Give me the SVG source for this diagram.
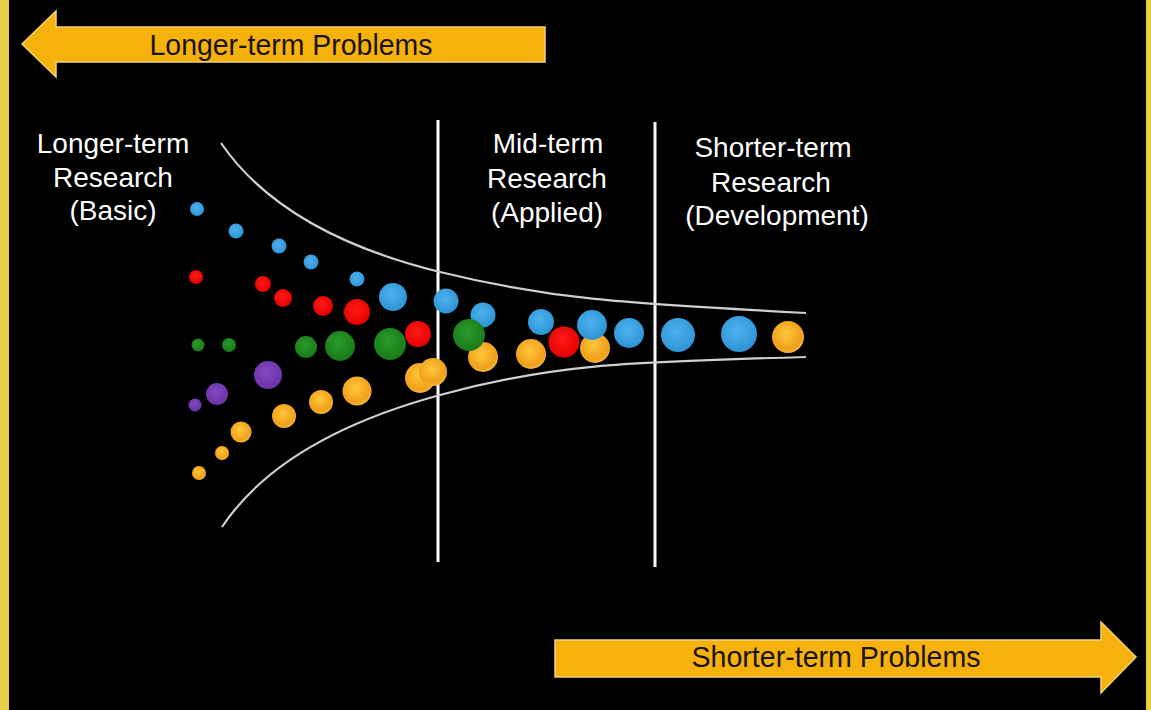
<svg xmlns="http://www.w3.org/2000/svg" width="1151" height="710" viewBox="0 0 1151 710">
<defs>
<radialGradient id="gB" cx="45%" cy="40%" r="60%"><stop offset="0" stop-color="#4DB3EC"/><stop offset="1" stop-color="#2E93D6"/></radialGradient>
<radialGradient id="gR" cx="45%" cy="40%" r="60%"><stop offset="0" stop-color="#FF1A1A"/><stop offset="1" stop-color="#E60000"/></radialGradient>
<radialGradient id="gG" cx="45%" cy="40%" r="60%"><stop offset="0" stop-color="#2A9A2A"/><stop offset="1" stop-color="#197A19"/></radialGradient>
<radialGradient id="gP" cx="45%" cy="40%" r="60%"><stop offset="0" stop-color="#8447C2"/><stop offset="1" stop-color="#6A34A6"/></radialGradient>
<radialGradient id="gO" cx="45%" cy="40%" r="60%"><stop offset="0" stop-color="#FFC83A"/><stop offset="0.8" stop-color="#F0A01A"/><stop offset="1" stop-color="#F6B540"/></radialGradient>
</defs>
<style>
.lbl{font-family:"Liberation Sans",Arial,sans-serif;font-size:28px;fill:#ffffff;text-anchor:middle}
.atx{font-family:"Liberation Sans",Arial,sans-serif;font-size:30px;fill:#1a1208;text-anchor:middle}
.arrow{fill:#F6B20C;stroke:#F3CF7A;stroke-width:1.5}
.div{stroke:#ffffff;stroke-width:3;fill:none}
.fun{stroke:#cfcfcf;stroke-width:2.2;fill:none}
.b{fill:url(#gB)}.r{fill:url(#gR)}.g{fill:url(#gG)}.p{fill:url(#gP)}.o{fill:url(#gO)}
</style>
<rect x="0" y="0" width="1151" height="710" fill="#000000"/>
<rect x="0" y="0" width="9" height="710" fill="#E8CF45"/>
<rect x="1146" y="0" width="5" height="710" fill="#E8CF45"/>

<g id="arrow-longer">
<polygon class="arrow" points="22,44 56,11 56,27 545,27 545,62 56,62 56,77"/>
<text class="atx" x="291" y="55" textLength="283" lengthAdjust="spacingAndGlyphs">Longer-term Problems</text>
</g>
<g id="arrow-shorter">
<polygon class="arrow" points="555,640 1101,640 1101,622 1136,657 1101,693 1101,677 555,677"/>
<text class="atx" x="836" y="667" textLength="289" lengthAdjust="spacingAndGlyphs">Shorter-term Problems</text>
</g>

<g id="label-basic">
<text class="lbl" x="113" y="153">Longer-term</text>
<text class="lbl" x="113" y="187">Research</text>
<text class="lbl" x="113" y="220">(Basic)</text>
</g>
<g id="label-applied">
<text class="lbl" x="548" y="153">Mid-term</text>
<text class="lbl" x="547" y="188">Research</text>
<text class="lbl" x="547" y="222">(Applied)</text>
</g>
<g id="label-development">
<text class="lbl" x="773" y="157">Shorter-term</text>
<text class="lbl" x="771" y="192">Research</text>
<text class="lbl" x="777" y="225">(Development)</text>
</g>

<g id="dividers">
<line class="div" x1="438" y1="120" x2="438" y2="562"/>
<line class="div" x1="655" y1="122" x2="655" y2="567"/>
</g>

<g id="funnel">
<path class="fun" d="M221,143 C260,200 330,245 440,272 S620,303 806,313"/>
<path class="fun" d="M222,527 C260,470 330,425 440,395 S620,362 806,357"/>
</g>

<g id="bubbles">
<circle class="b" cx="197" cy="209" r="7"/>
<circle class="b" cx="236" cy="231" r="7.5"/>
<circle class="b" cx="279" cy="246" r="7.5"/>
<circle class="b" cx="311" cy="262" r="7.5"/>
<circle class="b" cx="357" cy="279" r="7.5"/>
<circle class="b" cx="393" cy="297" r="14"/>
<circle class="b" cx="446" cy="301" r="12.5"/>
<circle class="b" cx="483" cy="315" r="12.5"/>
<circle class="b" cx="541" cy="322" r="13"/>

<circle class="r" cx="196" cy="277" r="7"/>
<circle class="r" cx="263" cy="284" r="8"/>
<circle class="r" cx="283" cy="298" r="9"/>
<circle class="r" cx="323" cy="306" r="10"/>
<circle class="r" cx="357" cy="312" r="13"/>
<circle class="r" cx="418" cy="334" r="13"/>

<circle class="g" cx="198" cy="345" r="6.5"/>
<circle class="g" cx="229" cy="345" r="7"/>
<circle class="g" cx="306" cy="347" r="11"/>
<circle class="g" cx="340" cy="346" r="15"/>
<circle class="g" cx="390" cy="344" r="16"/>

<circle class="p" cx="195" cy="405" r="6.5"/>
<circle class="p" cx="217" cy="394" r="11"/>
<circle class="p" cx="268" cy="375" r="14"/>

<circle class="o" cx="199" cy="473" r="7"/>
<circle class="o" cx="222" cy="453" r="7"/>
<circle class="o" cx="241" cy="432" r="10.5"/>
<circle class="o" cx="284" cy="416" r="12"/>
<circle class="o" cx="321" cy="402" r="12"/>
<circle class="o" cx="357" cy="391" r="14.5"/>
<circle class="o" cx="420" cy="378" r="15"/>
<circle class="o" cx="433" cy="372" r="14"/>
<circle class="o" cx="483" cy="357" r="15"/>
<circle class="g" cx="469" cy="335" r="16"/>
<circle class="o" cx="531" cy="354" r="15"/>
<circle class="o" cx="595" cy="348" r="15"/>
<circle class="r" cx="564" cy="342" r="15.5"/>
<circle class="b" cx="592" cy="325" r="15"/>
<circle class="b" cx="629" cy="333" r="15"/>
<circle class="b" cx="678" cy="335" r="17"/>
<circle class="b" cx="739" cy="334" r="18"/>
<circle class="o" cx="788" cy="337" r="16"/>
</g>
</svg>
